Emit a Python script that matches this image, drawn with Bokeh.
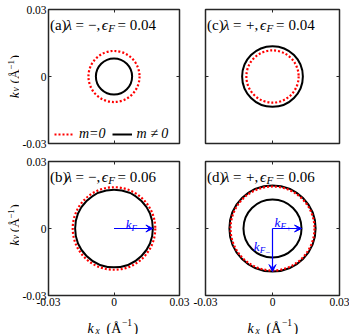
import math
from bokeh.plotting import figure
from bokeh.models import (Range1d, FixedTicker, LinearAxis, Label, Arrow, VeeHead,
                          Legend, LegendItem, Spacer)
from bokeh.layouts import column, row
from bokeh.embed import file_html
from bokeh.resources import INLINE

# ---------------- data ----------------
panel_tags = ["(a)", "(b)", "(c)", "(d)"]
lambda_signs = ["−", "−", "+", "+"]
eps_F = ["0.04", "0.06", "0.04", "0.06"]
r_m0 = [0.0117, 0.0189, 0.0117, 0.0188]          # red dotted, m = 0
r_m_outer = [0.0083, 0.0178, 0.0136, 0.0193]     # black, m != 0
r_m_inner = [None, None, None, 0.0130]           # second black circle (d)
tick_values = [-0.03, 0.0, 0.03]
tick_labels = ["-0.03", "0", "0.03"]
LIM = 0.03

FONT = "'Liberation Serif'"
DARK = "#262626"
RED = "#ff0000"
BLUE = "#0000ff"
FRAME = 134
PX = 2 * LIM / FRAME   # data units per pixel

YL_W = 19              # width of the y-label strip
LEFT_B, MID_L = 26, 12  # borders of the left panels
MID_R, RIGHT_B = 14, 10  # borders of the right panels
TOP_H, BOT_H, XL_H = 152, 161, 21


def put(p, xpx, ypx, text, size=14, style="normal", color="black", angle=0.0,
        origin=-LIM, scale=PX, align="left"):
    p.add_layout(Label(x=origin + xpx * scale, y=origin + ypx * scale, text=text,
                       text_font=FONT, text_font_size=f"{size}px",
                       text_font_style=style, text_color=color, angle=angle,
                       text_align=align, text_baseline="alphabetic"))


def style_axis(ax, show):
    ax.ticker = FixedTicker(ticks=tick_values)
    if show:
        ax.major_label_overrides = dict(zip(tick_values, tick_labels))
    else:
        ax.major_label_overrides = {v: "" for v in tick_values}
    ax.major_tick_in = 3
    ax.major_tick_out = 0
    ax.minor_tick_line_color = None
    ax.major_tick_line_color = DARK
    ax.major_tick_line_width = 1
    ax.axis_line_color = None
    ax.major_label_text_font = FONT
    ax.major_label_text_color = "black"
    ax.major_label_text_font_size = "11.5px"
    ax.major_label_standoff = 0


def make(i, left, top):
    p = figure(width=(LEFT_B + FRAME + MID_L) if left else (MID_R + FRAME + RIGHT_B),
               height=TOP_H if top else BOT_H,
               x_range=Range1d(-LIM, LIM), y_range=Range1d(-LIM, LIM),
               output_backend="svg", toolbar_location=None, tools="",
               min_border_left=LEFT_B if left else MID_R,
               min_border_right=MID_L if left else RIGHT_B,
               min_border_top=9,
               min_border_bottom=9 if top else 18)
    p.grid.visible = False
    p.outline_line_color = DARK
    p.outline_line_width = 1.5
    p.background_fill_color = "white"
    p.border_fill_color = "white"
    style_axis(p.xaxis[0], not top)
    style_axis(p.yaxis[0], left)
    if not top:
        p.xaxis[0].major_label_standoff = 2
    if left:
        p.yaxis[0].major_label_standoff = 2
    ax_r = LinearAxis()
    ax_t = LinearAxis()
    style_axis(ax_r, False)
    style_axis(ax_t, False)
    p.add_layout(ax_r, "right")
    p.add_layout(ax_t, "above")

    # circles: black (m != 0) first, red dotted (m = 0) on top
    p.circle(x=[0], y=[0], radius=[r_m_outer[i]], fill_color=None,
             line_color="black", line_width=2)
    if r_m_inner[i] is not None:
        p.circle(x=[0], y=[0], radius=[r_m_inner[i]], fill_color=None,
                 line_color="black", line_width=2)
    p.circle(x=[0], y=[0], radius=[r_m0[i]], fill_color=None,
             line_color=RED, line_width=2.2, line_dash="2 2")

    # panel title
    tb = FRAME - 15.5
    put(p, 1.5, tb, panel_tags[i], 15)
    put(p, 17.5, tb, "λ", 15, "italic")
    put(p, 27.5, tb, "=", 15)
    put(p, 40.5, tb, lambda_signs[i], 15)
    put(p, 49, tb, ",", 15)
    put(p, 54.5, tb, "ϵ", 15, "italic")
    put(p, 61, tb - 3, "F", 11, "italic")
    put(p, 70.5, tb, "=", 15)
    put(p, 83, tb, eps_F[i], 15)
    return p


def label_fig(w, h):
    f = figure(width=w, height=h, x_range=Range1d(0, w), y_range=Range1d(0, h),
               output_backend="svg", toolbar_location=None, tools="",
               min_border=0, x_axis_location=None, y_axis_location=None)
    f.grid.visible = False
    f.outline_line_color = None
    f.background_fill_color = "white"
    f.border_fill_color = "white"
    return f


def x_label(f, cx, base, sub):
    s = cx - 25
    put(f, s, base, "k", 14, "italic", origin=0, scale=1)
    put(f, s + 8, base - 3, sub, 9.5, "italic", origin=0, scale=1)
    put(f, s + 19, base, "(Å", 14, origin=0, scale=1)
    put(f, s + 34.5, base + 5.5, "−1", 9.5, origin=0, scale=1)
    put(f, s + 46, base, ")", 14, origin=0, scale=1)


def y_label(f, cy, base, sub):
    # pieces anchored at their ends (text reads bottom to top)
    s = cy - 24
    a = math.pi / 2
    kw = dict(angle=a, origin=0, scale=1, align="right")
    put(f, base, s + 6.0, "k", 13.5, "italic", **kw)
    put(f, base + 1.5, s + 7.5 + 4.2, sub, 9.5, "italic", **kw)
    put(f, base, s + 18 + 14.25, "(Å", 13.5, **kw)
    put(f, base - 4, s + 33 + 9.6, "−1", 9, **kw)
    put(f, base, s + 44 + 4.5, ")", 13.5, **kw)


pa = make(0, True, True)
pb = make(1, True, False)
pc = make(2, False, True)
pd = make(3, False, False)

# legend in (a)
nan = float("nan")
lr = pa.line(x=[nan, nan], y=[nan, nan], line_color=RED, line_width=2.2,
             line_dash="2 2")
lk = pa.line(x=[nan, nan], y=[nan, nan], line_color="black", line_width=2)
leg = Legend(items=[LegendItem(label="m=0", renderers=[lr]),
                    LegendItem(label="m ≠ 0", renderers=[lk])],
             orientation="horizontal", location=(6, 1), glyph_width=20,
             glyph_height=12, label_standoff=5, spacing=6, padding=1, margin=0,
             background_fill_alpha=0, border_line_color=None,
             label_text_font=FONT, label_text_font_size="14px",
             label_text_font_style="italic", label_text_color="black",
             label_height=14, label_width=10)
pa.add_layout(leg)

# arrows
head = dict(size=7, fill_color=BLUE, line_color=BLUE, line_width=1)
pb.add_layout(Arrow(end=VeeHead(**head), x_start=0, y_start=0,
                    x_end=r_m_outer[1], y_end=0, line_color=BLUE, line_width=1.2))
pd.add_layout(Arrow(end=VeeHead(**head), x_start=0, y_start=0,
                    x_end=r_m_inner[3], y_end=0, line_color=BLUE, line_width=1.2))
pd.add_layout(Arrow(end=VeeHead(**head), x_start=0, y_start=0,
                    x_end=0, y_end=-r_m_outer[3], line_color=BLUE, line_width=1.2))

c = FRAME / 2
put(pb, c + 12, c + 4, "k", 13, "italic", BLUE)
put(pb, c + 18, c + 1, "F", 9, "italic", BLUE)
put(pd, c + 2, c + 6, "k", 13, "italic", BLUE)
put(pd, c + 8, c + 3, "F", 9, "italic", BLUE)
put(pd, c + 14, c + 1, "+", 8, "normal", BLUE)
put(pd, c - 18.7, c - 18, "k", 13, "italic", BLUE)
put(pd, c - 12.7, c - 21, "F", 9, "italic", BLUE)
put(pd, c - 6.7, c - 23, "−", 8, "normal", BLUE)

# axis-label strips
ya = label_fig(YL_W, TOP_H)
y_label(ya, TOP_H - 9 - FRAME / 2, 14, "y")
yb = label_fig(YL_W, BOT_H)
y_label(yb, BOT_H - 9 - FRAME / 2, 14, "y")
xb = label_fig(LEFT_B + FRAME + MID_L, XL_H)
x_label(xb, LEFT_B + FRAME / 2, 6.5, "x")
xd = label_fig(MID_R + FRAME + RIGHT_B, XL_H)
x_label(xd, MID_R + FRAME / 2, 6.5, "x")

layout = column(row(ya, pa, pc), row(yb, pb, pd),
                row(Spacer(width=YL_W, height=XL_H), xb, xd))
open("out.html", "w").write(file_html(layout, INLINE))
